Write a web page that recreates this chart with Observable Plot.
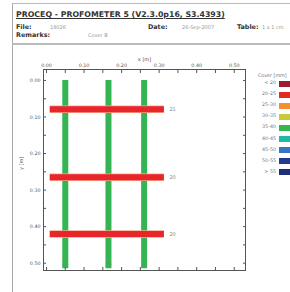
<!DOCTYPE html>
<html>
<head>
<meta charset="utf-8">
<script src="https://cdn.jsdelivr.net/npm/d3@7"></script>
<script src="https://cdn.jsdelivr.net/npm/@observablehq/plot@0.6"></script>
<style>
  html, body { margin: 0; padding: 0; background: #fff; }
  #page { position: relative; width: 290px; height: 292px; overflow: hidden; background: #fff; font-family: "DejaVu Sans", sans-serif; }
  .abs { position: absolute; white-space: nowrap; }
  .b { font-weight: bold; color: #333; font-size: 6.4px; }
  .v { color: #999; font-size: 5px; }
  #legend .lab { position: absolute; font-size: 4.8px; color: #777; text-align: right; width: 24px; }
  #legend .sw { position: absolute; width: 13px; height: 6px; }
</style>
</head>
<body>
<div id="page">
  <div class="abs" style="left:12px;top:3px;width:300px;height:300px;border-left:1px solid #aaa;border-top:1px solid #bbb;"></div>
  <div class="abs" style="left:16px;top:10px;font-size:7.8px;font-weight:bold;color:#333;text-decoration:underline;">PROCEQ - PROFOMETER 5 (V2.3.0p16, S3.4393)</div>
  <div class="abs b" style="left:16px;top:23px;">File:</div>
  <div class="abs v" style="left:50px;top:24px;">18026</div>
  <div class="abs b" style="left:148px;top:23px;">Date:</div>
  <div class="abs v" style="left:182px;top:24px;">26-Sep-2007</div>
  <div class="abs b" style="left:237px;top:23px;">Table:</div>
  <div class="abs v" style="left:262px;top:24px;">1 x 1 cm</div>
  <div class="abs b" style="left:16px;top:31px;">Remarks:</div>
  <div class="abs v" style="left:88px;top:32px;">Cover B</div>
  <div class="abs" style="left:12px;top:43px;width:290px;height:2px;background:#bbb;"></div>
  <div id="chart" class="abs" style="left:0;top:44px;"></div>
  <div id="legend" class="abs" style="left:0;top:0;width:290px;height:292px;"></div>
</div>
<script>
// ---- data ----
const xMajor = [0, 0.1, 0.2, 0.3, 0.4, 0.5];
const yMajor = [0, 0.1, 0.2, 0.3, 0.4, 0.5];
const xMinor = [0, 0.05, 0.1, 0.15, 0.2, 0.25, 0.3, 0.35, 0.4, 0.45, 0.5];
const yMinor = [0, 0.05, 0.1, 0.15, 0.2, 0.25, 0.3, 0.35, 0.4, 0.45, 0.5];
const greenX = [0.05, 0.165, 0.26];
const greenY1 = [0, 0, 0];
const greenY2 = [0.515, 0.515, 0.515];
const greenLabels = ["19", "19", "19"];
const redY = [0.079, 0.265, 0.42];
const redX1 = [0.01, 0.01, 0.01];
const redX2 = [0.314, 0.314, 0.314];
const redLabels = ["21", "20", "20"];
const legendTitle = "Cover [mm]";
const legendLabels = ["< 20", "20-25", "25-30", "30-35", "35-40", "40-45", "45-50", "50-55", "> 55"];
const legendColors = ["#9e1b32", "#e32b21", "#f39233", "#c5cc3a", "#34b552", "#22b7a6", "#3a74c4", "#253a8e", "#1f2c78"];

const greenColor = legendColors[4];
const redColor = "#e8252b";

const greens = greenX.map((x, i) => ({x, y1: greenY1[i], y2: greenY2[i], label: greenLabels[i]}));
const reds = redY.map((y, i) => ({y, x1: redX1[i], x2: redX2[i], label: redLabels[i]}));
const isMajor = d => Math.abs(d * 10 - Math.round(d * 10)) < 1e-6;

const chart = Plot.plot({
  width: 290,
  height: 248,
  marginTop: 25,
  marginBottom: 22,
  marginLeft: 43,
  marginRight: 45,
  style: {fontFamily: "DejaVu Sans, sans-serif", fontSize: "4.8px", color: "#555", background: "transparent"},
  x: {domain: [-0.008, 0.53]},
  y: {domain: [-0.03, 0.52], reverse: true},
  marks: [
    Plot.ruleX(greens, {x: "x", y1: "y1", y2: "y2", stroke: greenColor, strokeWidth: 6}),
    Plot.ruleY(reds, {y: "y", x1: "x1", x2: "x2", stroke: "#f5a88a", strokeWidth: 7.5}),
    Plot.ruleY(reds, {y: "y", x1: "x1", x2: "x2", stroke: redColor, strokeWidth: 6}),
    Plot.text(reds, {x: "x2", y: "y", text: "label", dx: 5, textAnchor: "start", fill: "#888", fontSize: 5}),
    Plot.text(greens, {x: "x", y: () => 0.505, text: "label", fill: "#6a8f6a", fontSize: 4.5}),
    Plot.frame({stroke: "#555"}),
    Plot.axisX({anchor: "top", ticks: xMinor, tickSize: -3, tickPadding: 6, tickFormat: d => isMajor(d) ? d.toFixed(2) : "", label: null, stroke: "#555"}),
    Plot.axisX({anchor: "bottom", ticks: xMinor, tickSize: -3, tickFormat: () => "", label: null, stroke: "#555"}),
    Plot.axisY({anchor: "left", ticks: yMinor, tickSize: -3, tickPadding: 6, tickFormat: d => isMajor(d) ? d.toFixed(2) : "", label: null, stroke: "#555"}),
    Plot.axisY({anchor: "right", ticks: yMinor, tickSize: -3, tickFormat: () => "", label: null, stroke: "#555"}),
    Plot.text(["x [m]"], {frameAnchor: "top", dy: -12, fill: "#555", fontSize: 5}),
    Plot.text(["y [m]"], {frameAnchor: "left", dx: -22, rotate: -90, fill: "#555", fontSize: 5})
  ]
});
document.getElementById("chart").appendChild(chart);

// legend
const lg = document.getElementById("legend");
const t = document.createElement("div");
t.className = "abs";
t.style.cssText = "left:258px;top:73px;font-size:4.8px;color:#777;";
t.textContent = legendTitle;
lg.appendChild(t);
legendLabels.forEach((lab, i) => {
  const top = 80 + i * 11.1;
  const l = document.createElement("div");
  l.className = "lab";
  l.style.left = "252px";
  l.style.top = top + "px";
  l.textContent = lab;
  lg.appendChild(l);
  const s = document.createElement("div");
  s.className = "sw";
  s.style.left = "279px";
  s.style.top = (top + 0.5) + "px";
  s.style.background = legendColors[i];
  lg.appendChild(s);
});
</script>
</body>
</html>
